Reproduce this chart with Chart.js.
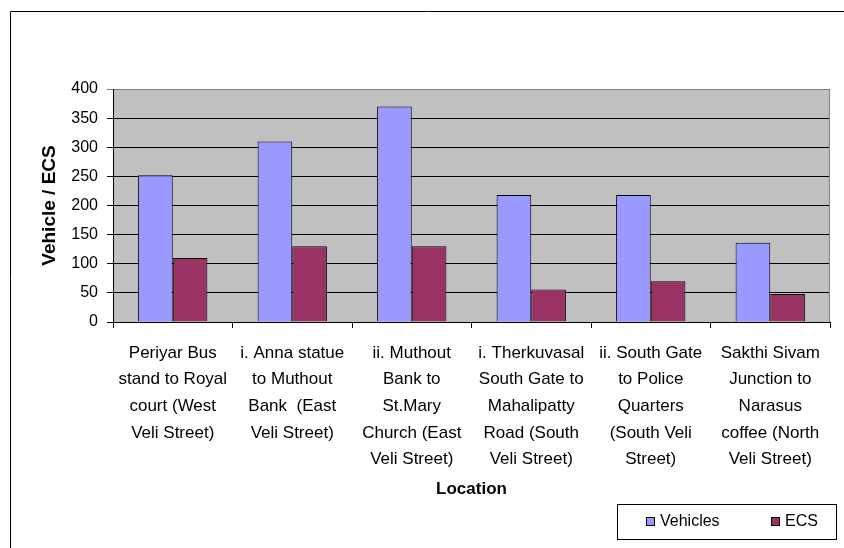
<!DOCTYPE html>
<html>
<head>
<meta charset="utf-8">
<title>Vehicle / ECS by location</title>
<script src="https://cdn.jsdelivr.net/npm/chart.js"></script>
<style>
    body { margin: 0; background: #fff; }
    canvas { display: block; }
</style>
</head>
<body>
<canvas id="chart" width="844" height="548"></canvas>
<script>
const locations = [
    ['Periyar Bus', 'stand to Royal', 'court (West', 'Veli Street)'],
    ['i. Anna statue', 'to Muthout', 'Bank  (East', 'Veli Street)'],
    ['ii. Muthout', 'Bank to', 'St.Mary', 'Church (East', 'Veli Street)'],
    ['i. Therkuvasal', 'South Gate to', 'Mahalipatty', 'Road (South', 'Veli Street)'],
    ['ii. South Gate', 'to Police', 'Quarters', '(South Veli', 'Street)'],
    ['Sakthi Sivam', 'Junction to', 'Narasus', 'coffee (North', 'Veli Street)']
]
const vehicles = [252, 310, 370, 218, 218, 136]
const ecs = [110, 130, 130, 56, 70, 48]
const yTicks = [0, 50, 100, 150, 200, 250, 300, 350, 400]

const sans = "'Liberation Sans', Arial, sans-serif"

// grey plot area, grey right frame, outer border and the boxed legend
const excelLook = {
    id: 'excelLook',
    beforeDraw(chart) {
        const { ctx, chartArea: a } = chart
        ctx.save()
        ctx.fillStyle = '#C0C0C0'
        ctx.fillRect(a.left, a.top, a.right - a.left, a.bottom - a.top)
        ctx.strokeStyle = '#000'
        ctx.lineWidth = 1
        ctx.beginPath()
        ctx.moveTo(10.5, chart.height)
        ctx.lineTo(10.5, 11.5)
        ctx.lineTo(chart.width, 11.5)
        ctx.stroke()
        ctx.restore()
    },
    beforeDatasetsDraw(chart) {
        const { ctx, chartArea: a } = chart
        ctx.save()
        ctx.strokeStyle = '#808080'
        ctx.lineWidth = 1
        ctx.beginPath()
        ctx.moveTo(Math.round(a.right) - 0.5, a.top)
        ctx.lineTo(Math.round(a.right) - 0.5, a.bottom)
        ctx.stroke()
        ctx.restore()
    },
    afterDraw(chart) {
        const ctx = chart.ctx
        ctx.save()
        ctx.strokeStyle = '#000'
        ctx.lineWidth = 1
        ctx.strokeRect(617.5, 504.5, 219, 35)
        const xs = [646, 771]
        chart.data.datasets.forEach((ds, i) => {
            ctx.fillStyle = ds.backgroundColor
            ctx.fillRect(xs[i], 517, 9, 9)
            ctx.strokeRect(xs[i] + 0.5, 517.5, 8, 8)
            ctx.fillStyle = '#000'
            ctx.font = '16px ' + sans
            ctx.textBaseline = 'middle'
            ctx.fillText(ds.label, xs[i] + 14, 522)
        })
        ctx.restore()
    }
}

new Chart(document.getElementById('chart'), {
    type: 'bar',
    data: {
        labels: locations,
        datasets: [
            {
                label: 'Vehicles',
                data: vehicles,
                backgroundColor: '#9999FF',
                borderColor: '#000',
                borderWidth: 1,
                categoryPercentage: 0.58,
                barPercentage: 1
            },
            {
                label: 'ECS',
                data: ecs,
                backgroundColor: '#993366',
                borderColor: '#000',
                borderWidth: 1,
                categoryPercentage: 0.58,
                barPercentage: 1
            }
        ]
    },
    options: {
        responsive: false,
        animation: false,
        devicePixelRatio: 1,
        layout: { padding: { left: 38, top: 89, right: 14, bottom: 48 } },
        plugins: {
            legend: { display: false },
            tooltip: { enabled: false }
        },
        scales: {
            x: {
                afterFit: scale => { scale.height = 178 },
                grid: { drawOnChartArea: false, drawTicks: true, tickLength: 6, color: '#000', offset: true },
                border: { color: '#000', width: 1 },
                ticks: {
                    autoSkip: false,
                    maxRotation: 0,
                    minRotation: 0,
                    padding: 12,
                    color: '#000',
                    font: { family: sans, size: 17, lineHeight: 1.56 }
                },
                title: {
                    display: true,
                    text: 'Location',
                    color: '#000',
                    padding: 0,
                    font: { family: sans, size: 17, weight: 'bold' }
                }
            },
            y: {
                min: 0,
                max: 400,
                afterFit: scale => { scale.width = 75 },
                afterBuildTicks: scale => { scale.ticks = yTicks.map(v => ({ value: v })) },
                grid: {
                    color: c => c.tick && c.tick.value === 400 ? '#808080' : '#000',
                    tickLength: 6,
                    drawTicks: true
                },
                border: { color: '#000', width: 1 },
                ticks: {
                    padding: 9,
                    color: '#000',
                    font: { family: sans, size: 16 }
                },
                title: {
                    display: true,
                    text: 'Vehicle / ECS',
                    color: '#000',
                    padding: 0,
                    font: { family: sans, size: 19, weight: 'bold' }
                }
            }
        }
    },
    plugins: [excelLook]
})
</script>
</body>
</html>
